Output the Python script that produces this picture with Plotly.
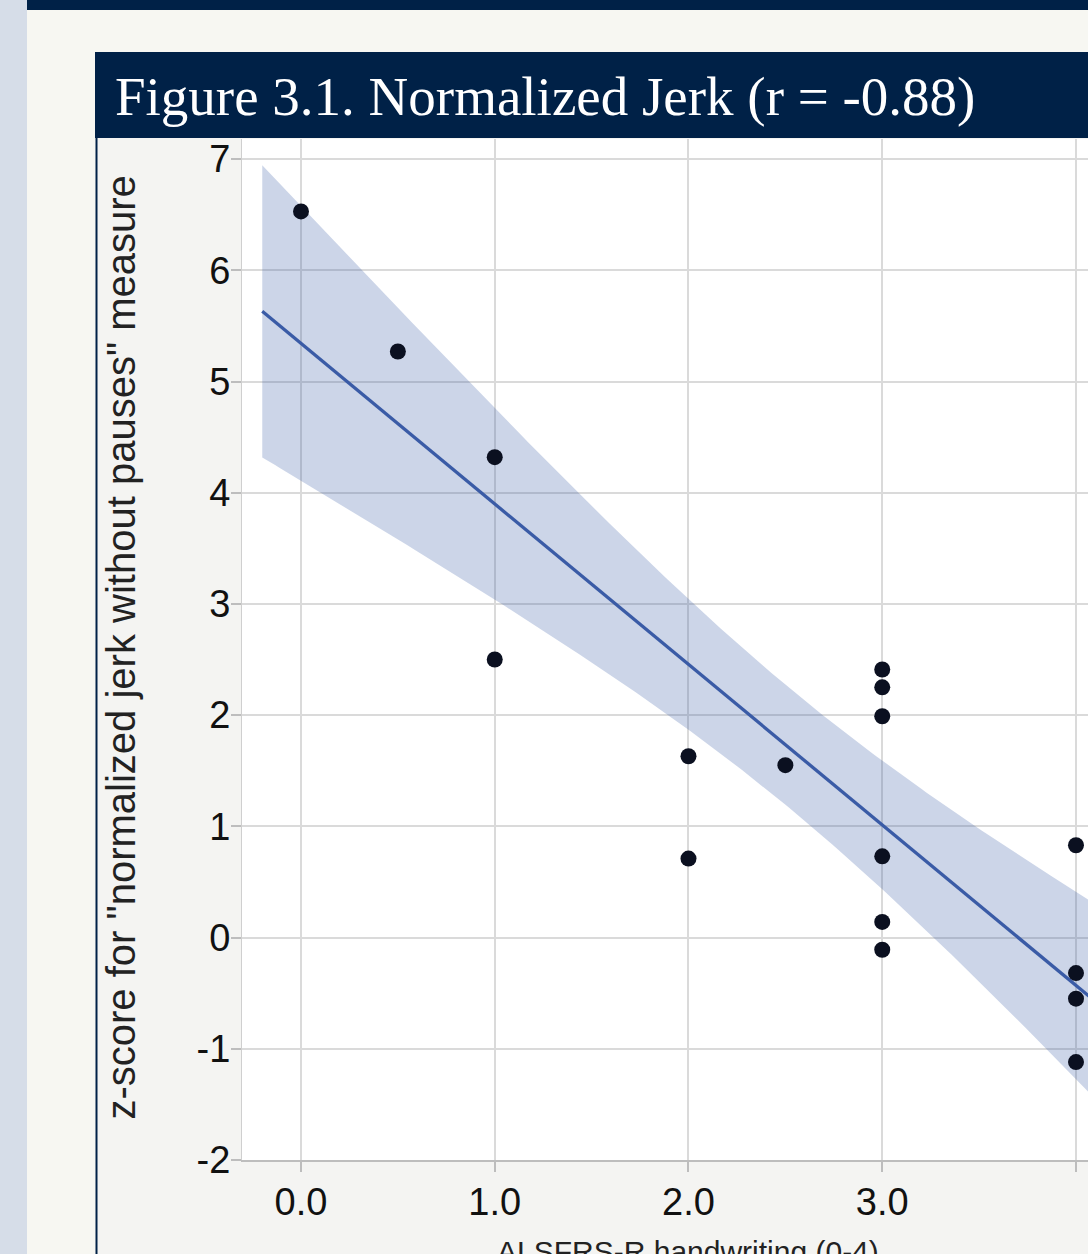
import numpy as np
import plotly.graph_objects as go

# ALSFRS-R handwriting score vs z-score of normalized jerk (without pauses)
alsfrs_handwriting = [0.0, 0.5, 1.0, 1.0, 2.0, 2.0, 2.5, 3.0, 3.0, 3.0, 3.0, 3.0, 3.0, 4.0, 4.0, 4.0, 4.0]
jerk_zscore = [6.53, 5.27, 4.32, 2.50, 1.63, 0.71, 1.55, 2.41, 2.25, 1.99, 0.73, 0.14, -0.11, 0.83, -0.32, -0.55, -1.12]

x_tick_vals = [0, 1, 2, 3, 4]
x_tick_text = ["0.0", "1.0", "2.0", "3.0", "4.0"]
y_tick_vals = [-2, -1, 0, 1, 2, 3, 4, 5, 6, 7]
y_tick_text = ["-2", "-1", "0", "1", "2", "3", "4", "5", "6", "7"]

title_text = "Figure 3.1. Normalized Jerk (r = -0.88)"
x_title = "ALSFRS-R handwriting (0-4)"
y_title = 'z-score for "normalized jerk without pauses" measure'

# Linear fit with 95% confidence band for the mean
x = np.array(alsfrs_handwriting)
y = np.array(jerk_zscore)
n = len(x)
slope, intercept = np.polyfit(x, y, 1)
resid = y - (intercept + slope * x)
s = np.sqrt(np.sum(resid ** 2) / (n - 2))
sxx = np.sum((x - x.mean()) ** 2)
t_crit = 2.131  # t(0.975, df=15)
xf = np.linspace(-0.2, 4.2, 200)
yf = intercept + slope * xf
half = t_crit * s * np.sqrt(1.0 / n + (xf - x.mean()) ** 2 / sxx)

W, H = 1088, 1276
LAYOUT_W, LAYOUT_H = 1088, 1254  # layout grid used for placing panels
NAVY = "#002147"


def px(v):
    return v / LAYOUT_W


def py(v):
    return 1 - v / LAYOUT_H


fig = go.Figure()

fig.add_trace(go.Scatter(
    x=np.concatenate([xf, xf[::-1]]),
    y=np.concatenate([yf + half, (yf - half)[::-1]]),
    fill="toself", fillcolor="rgba(58,91,166,0.26)",
    line=dict(width=0), mode="lines", hoverinfo="skip", showlegend=False,
))
fig.add_trace(go.Scatter(
    x=xf, y=yf, mode="lines",
    line=dict(color="#3a5ba6", width=3.3), showlegend=False,
))
fig.add_trace(go.Scatter(
    x=alsfrs_handwriting, y=jerk_zscore, mode="markers",
    marker=dict(color="#0b1020", size=16), showlegend=False,
))

shapes = [
    # left page strip
    dict(type="rect", xref="paper", yref="paper", x0=0, x1=px(27), y0=0, y1=1,
         fillcolor="#d6dde8", line_width=0, layer="below"),
    # top navy band
    dict(type="rect", xref="paper", yref="paper", x0=px(27), x1=1, y0=py(10), y1=1,
         fillcolor=NAVY, line_width=0, layer="below"),
    # panel background
    dict(type="rect", xref="paper", yref="paper", x0=px(96), x1=1, y0=0, y1=py(138),
         fillcolor="#f4f4f2", line_width=0, layer="below"),
    # plotting area
    dict(type="rect", xref="paper", yref="paper", x0=px(242), x1=1, y0=py(1159), y1=py(139),
         fillcolor="white", line_width=0, layer="below"),
    # panel left border
    dict(type="line", xref="paper", yref="paper", x0=px(96.5), x1=px(96.5), y0=0, y1=py(138),
         line=dict(color=NAVY, width=2), layer="below"),
    # title bar
    dict(type="rect", xref="paper", yref="paper", x0=px(95), x1=1, y0=py(138), y1=py(52),
         fillcolor=NAVY, line_width=0, layer="below"),
]

annotations = [
    dict(text=title_text, xref="paper", yref="paper", x=px(113), y=py(96),
         xanchor="left", yanchor="middle", showarrow=False,
         font=dict(family="Liberation Serif", size=55, color="white")),
    dict(text=y_title, xref="paper", yref="paper", x=px(121), y=py(647),
         xanchor="center", yanchor="middle", textangle=-90, showarrow=False,
         font=dict(family="Liberation Sans", size=40, color="#222222")),
    dict(text=x_title, xref="x", yref="paper", x=2.0, y=py(1232),
         xanchor="center", yanchor="top", showarrow=False,
         font=dict(family="Liberation Sans", size=30, color="#222222")),
]

fig.update_layout(
    width=W, height=H,
    margin=dict(l=0, r=0, t=0, b=0),
    paper_bgcolor="#f7f7f2",
    plot_bgcolor="white",
    shapes=shapes,
    annotations=annotations,
    showlegend=False,
    xaxis=dict(
        domain=[px(242), 1],
        range=[-0.3045, 4.062],
        tickvals=x_tick_vals, ticktext=x_tick_text,
        showgrid=True, gridcolor="#dadada", gridwidth=2,
        zeroline=False,
        showline=True, linecolor="#bdbdbd", linewidth=2,
        ticks="outside", ticklen=10, tickcolor="#bdbdbd", tickwidth=2,
        tickfont=dict(family="Liberation Sans", size=38, color="#111111"),
        ticklabelstandoff=-3,
    ),
    yaxis=dict(
        domain=[py(1159), py(139)],
        range=[-2, 7.18],
        tickvals=y_tick_vals, ticktext=y_tick_text,
        showgrid=True, gridcolor="#dadada", gridwidth=2,
        zeroline=False,
        showline=True, linecolor="#cfcfcf", linewidth=1,
        ticks="outside", ticklen=10, tickcolor="#bdbdbd", tickwidth=2,
        tickfont=dict(family="Liberation Sans", size=38, color="#111111"),
        ticklabelstandoff=-7,
    ),
)

fig.write_html("out.html")
